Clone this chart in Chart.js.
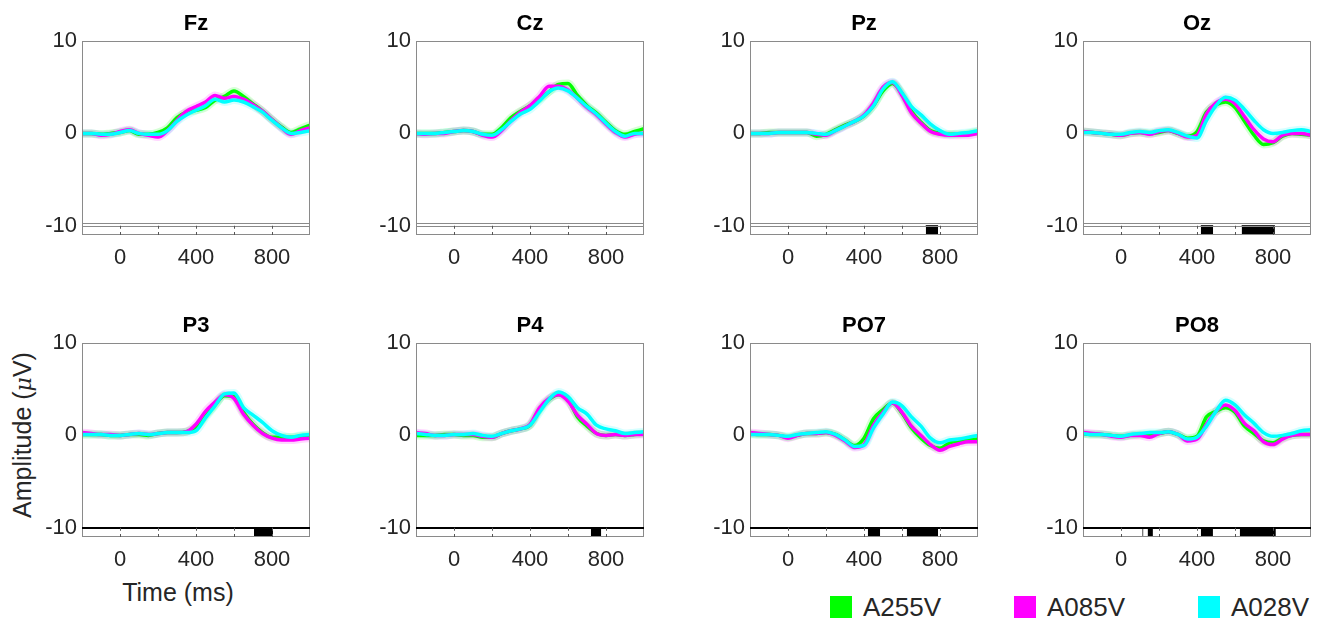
<!DOCTYPE html>
<html lang="en">
<head>
<meta charset="UTF-8">
<title>ERP by electrode</title>
<script src="https://cdn.jsdelivr.net/npm/chart.js"></script>
<style>
    body {
        margin: 0;
        background: #fff;
        font-family: "Liberation Sans", Arial, sans-serif;
    }

    #page {
        position: relative;
        width: 1321px;
        height: 619px;
        overflow: hidden;
    }

    #page canvas {
        position: absolute;
    }

    .axis-label {
        position: absolute;
        font-size: 25px;
        color: #262626;
        white-space: nowrap;
        transform: translate(-50%, -50%);
    }

    .axis-label.vertical {
        transform: translate(-50%, -50%) rotate(-90deg);
    }

    .axis-label i {
        font-family: "DejaVu Serif", serif;
        font-size: 22px;
    }

    .legend-item {
        position: absolute;
        top: 594px;
        height: 26px;
        display: flex;
        align-items: center;
        font-size: 26px;
        color: #262626;
    }

    .legend-item .swatch {
        width: 22px;
        height: 22px;
        margin-right: 11px;
    }
</style>
</head>
<body>
<div id="page">
    <div class="axis-label vertical" style="left: 22px; top: 435px;">Amplitude (<i>μ</i>V)</div>
    <div class="axis-label" style="left: 178px; top: 592px;">Time (ms)</div>
</div>

<script>
    // time axis (ms) shared by every panel
    const times = [-200, -150, -100, -50, 0, 50, 100, 150, 200, 250, 300, 350, 400,
                   450, 500, 550, 600, 650, 700, 750, 800, 850, 900, 950, 1000];

    const electrodes = ['Fz', 'Cz', 'Pz', 'Oz', 'P3', 'P4', 'PO7', 'PO8'];

    // amplitude (uV), one row per electrode, same order as above
    const a255v = [
        [0, 0, -0.1, 0, 0.1, 0.3, -0.1, -0.1, 0.1, 0.6, 1.7, 2.3, 2.5, 2.8, 3.6, 4.0, 4.6, 4.0, 3.2, 2.4, 1.5, 0.7, 0.1, 0.5, 0.9],
        [0, 0, 0, 0.1, 0.2, 0.3, 0.2, -0.1, -0.1, 0.6, 1.7, 2.4, 3.0, 3.7, 4.5, 5.3, 5.4, 4.1, 3.0, 2.2, 1.2, 0.3, -0.1, 0.2, 0.5],
        [0, 0, 0.1, 0.1, 0.1, 0.1, 0.1, -0.3, -0.1, 0.4, 0.9, 1.3, 1.9, 3.0, 4.6, 5.4, 4.3, 2.4, 1.2, 0.3, 0, -0.1, -0.1, 0, 0.2],
        [0.2, 0.1, 0, -0.1, -0.2, 0, 0.1, 0, 0.1, 0.3, 0, -0.3, 0.2, 2.3, 3.1, 3.4, 2.8, 1.3, -0.2, -1.2, -1.0, -0.3, 0, -0.1, -0.2],
        [0.1, 0.1, 0.1, 0, 0, 0.1, 0.1, 0, 0.2, 0.3, 0.3, 0.4, 0.9, 2.1, 3.3, 4.3, 4.2, 2.5, 1.2, 0.3, -0.2, -0.2, -0.2, -0.1, 0],
        [0, 0, 0, 0.1, 0.1, 0, 0, -0.2, -0.2, 0.2, 0.5, 0.7, 1.1, 2.8, 3.9, 4.4, 3.9, 2.0, 1.0, 0.2, 0, 0.1, 0, 0.1, 0.2],
        [0.2, 0.1, 0.1, 0, -0.2, 0, 0.2, 0.2, 0.3, 0.1, -0.5, -1.1, -0.3, 1.8, 2.8, 3.5, 2.4, 0.8, -0.3, -1.1, -1.4, -0.8, -0.6, -0.5, -0.4],
        [0.2, 0.1, 0.1, 0, -0.1, 0, 0.1, 0.1, 0.2, 0.4, 0.1, -0.3, -0.1, 2.0, 2.6, 3.0, 2.5, 1.0, 0.2, -0.6, -0.8, -0.3, 0, 0.1, 0.1]
    ];

    const a085v = [
        [0, 0, -0.2, -0.1, 0.2, 0.4, 0, -0.2, -0.4, 0.3, 1.4, 2.4, 2.9, 3.4, 4.1, 3.8, 4.0, 3.7, 3.1, 2.4, 1.5, 0.6, -0.1, 0.3, 0.6],
        [0, -0.1, 0, 0, 0.2, 0.3, 0.2, -0.2, -0.4, 0.3, 1.4, 2.3, 3.0, 4.0, 5.1, 5.1, 4.7, 3.8, 2.8, 2.0, 1.0, 0.1, -0.4, -0.1, 0],
        [0, 0, 0, 0.1, 0.1, 0.1, 0.1, -0.1, -0.2, 0.3, 0.8, 1.3, 2.0, 3.3, 5.0, 5.5, 4.1, 2.2, 1.1, 0.2, -0.1, -0.2, -0.2, -0.2, 0],
        [0.2, 0.1, 0, -0.1, -0.2, 0, 0.1, -0.1, 0.2, 0.3, 0, -0.4, -0.2, 2.1, 3.3, 3.7, 3.2, 1.8, 0.4, -0.6, -0.9, -0.2, 0, 0, -0.2],
        [0.3, 0.2, 0.1, 0.1, 0, 0.1, 0.2, 0.1, 0.2, 0.3, 0.3, 0.4, 1.2, 2.6, 3.6, 4.4, 4.0, 2.3, 1.1, 0.2, -0.3, -0.5, -0.5, -0.4, -0.3],
        [0.3, 0.2, 0, 0, 0.1, 0.1, 0.1, -0.1, -0.2, 0.2, 0.5, 0.7, 1.2, 3.0, 4.0, 4.4, 3.7, 2.2, 1.2, 0.2, 0, 0.1, 0, 0.1, 0.1],
        [0.3, 0.2, 0.1, 0, -0.3, 0, 0.2, 0.2, 0.3, 0, -0.6, -1.3, -1.0, 1.1, 2.5, 3.5, 2.5, 1.0, 0, -1.0, -1.6, -1.2, -0.9, -0.7, -0.7],
        [0.3, 0.2, 0.1, -0.1, -0.2, 0, 0, -0.2, 0.2, 0.4, 0.1, -0.6, -0.4, 1.2, 2.6, 3.3, 2.7, 1.3, 0.5, -0.7, -1.0, -0.4, 0, 0.1, 0.1]
    ];

    const a028v = [
        [0, 0, -0.1, -0.1, 0.1, 0.3, 0, -0.1, -0.1, 0.3, 1.3, 2.0, 2.5, 3.0, 3.7, 3.4, 3.6, 3.4, 2.9, 2.3, 1.4, 0.6, 0, 0.1, 0.3],
        [0, 0, 0, 0.1, 0.2, 0.3, 0.2, -0.1, -0.2, 0.4, 1.3, 2.1, 2.6, 3.5, 4.5, 4.9, 4.6, 3.8, 2.9, 2.1, 1.1, 0.2, -0.3, 0, 0],
        [0, 0, 0, 0.1, 0.1, 0.1, 0.1, 0, -0.1, 0.3, 0.8, 1.3, 1.9, 3.0, 4.8, 5.6, 4.4, 2.9, 2.0, 1.0, 0.3, -0.1, 0, 0.1, 0.3],
        [0.1, 0.1, 0, -0.1, -0.1, 0.1, 0.2, 0.1, 0.3, 0.4, 0.1, -0.3, -0.5, 1.4, 3.0, 3.9, 3.6, 2.6, 1.4, 0.4, 0, 0.1, 0.3, 0.4, 0.2],
        [0.1, 0.1, 0.1, 0, 0, 0.1, 0.2, 0.1, 0.2, 0.3, 0.3, 0.3, 0.5, 1.9, 3.2, 4.5, 4.6, 3.0, 2.2, 1.4, 0.5, 0, -0.2, 0, 0.1],
        [0.2, 0.1, 0, 0, 0.1, 0.1, 0.2, 0, -0.1, 0.2, 0.5, 0.7, 1.1, 2.5, 3.9, 4.7, 4.2, 3.0, 2.3, 1.1, 0.7, 0.5, 0.2, 0.3, 0.4],
        [0.1, 0.1, 0.1, 0, -0.1, 0.1, 0.2, 0.3, 0.4, 0.1, -0.5, -1.2, -1.1, 0.8, 2.3, 3.6, 3.2, 2.0, 1.0, -0.3, -0.8, -0.5, -0.4, -0.2, 0],
        [0.2, 0.1, 0.1, 0, -0.1, 0.1, 0.2, 0.3, 0.3, 0.4, 0.1, -0.4, -0.2, 1.0, 2.6, 3.8, 3.3, 2.2, 1.3, 0.3, -0.1, 0, 0.2, 0.5, 0.6]
    ];

    // significant time windows (ms) shown as black blocks in the strip
    const sigWindows = [
        [],
        [],
        [[725, 790]],
        [[420, 485], [635, 810]],
        [[705, 805]],
        [[720, 775]],
        [[420, 485], [625, 790]],
        [[112, 118], [140, 168], [420, 484], [625, 815]]
    ];

    const xTicks = [0, 400, 800];
    const yTicks = [10, 0, -10];
    const stripTicks = [0, 200, 400, 600, 800];

    const seriesNames = ['A255V', 'A085V', 'A028V'];
    const seriesColors = ['#00ff00', '#ff00ff', '#00ffff'];
    const bandColors = ['rgba(0,255,0,0.16)', 'rgba(255,0,255,0.16)', 'rgba(0,255,255,0.16)'];

    // layout of the 2x4 grid
    const plotLeft = [82, 416, 750, 1083];
    const plotTop = [41, 343];
    const plotW = 228, plotH = 194, titleH = 38, rightPad = 6;
    const fontFamily = '"Liberation Sans", Arial, sans-serif';
    const textColor = '#262626';

    // box, separator line and tick marks of the significance strip
    const framePlugin = {
        id: 'frame',
        afterDatasetsDraw(chart, args, opts) {
            const { ctx, chartArea: a } = chart;
            const x = chart.scales.x, y = chart.scales.y;
            ctx.save();
            ctx.strokeStyle = '#8a8a8a';
            ctx.lineWidth = 1;
            ctx.strokeRect(a.left + 0.5, a.top + 0.5, a.width - 1, a.height - 1);

            const yStrip = y.getPixelForValue(-10);
            if (opts.row === 0) {
                const yBox = Math.round(y.getPixelForValue(-9.7)) + 0.5;
                ctx.beginPath();
                ctx.moveTo(a.left, yBox); ctx.lineTo(a.right, yBox);
                ctx.moveTo(a.left, Math.round(yStrip) + 0.5); ctx.lineTo(a.right, Math.round(yStrip) + 0.5);
                ctx.stroke();
            } else {
                ctx.strokeStyle = '#000';
                ctx.lineWidth = 2;
                ctx.beginPath();
                ctx.moveTo(a.left, Math.round(yStrip)); ctx.lineTo(a.right, Math.round(yStrip));
                ctx.stroke();
            }

            ctx.strokeStyle = '#555';
            ctx.lineWidth = 1;
            ctx.beginPath();
            stripTicks.forEach(t => {
                const px = Math.round(x.getPixelForValue(t)) + 0.5;
                ctx.moveTo(px, yStrip); ctx.lineTo(px, yStrip + 3);
                ctx.moveTo(px, a.bottom - 3); ctx.lineTo(px, a.bottom);
            });
            ctx.stroke();
            ctx.restore();
        }
    };

    const page = document.getElementById('page');

    electrodes.forEach((name, i) => {
        const row = Math.floor(i / 4), col = i % 4;
        const yW = col === 0 ? plotLeft[0] : 76;
        const xH = 40;

        const cv = document.createElement('canvas');
        cv.width = yW + plotW + rightPad;
        cv.height = titleH + plotH + xH;
        cv.style.left = (plotLeft[col] - yW) + 'px';
        cv.style.top = (plotTop[row] - titleH) + 'px';
        page.appendChild(cv);

        const values = [a255v[i], a085v[i], a028v[i]];
        const toPoints = v => times.map((t, k) => ({ x: t, y: v[k] }));
        const datasets = [];

        // soft shading under each trace (drawn first, higher order = further back)
        values.forEach((v, s) => {
            datasets.push({
                label: seriesNames[s] + ' band',
                data: toPoints(v),
                borderColor: bandColors[s],
                borderWidth: 8,
                pointRadius: 0,
                cubicInterpolationMode: 'monotone',
                fill: false,
                order: 10
            });
        });
        // green at the back, cyan on top
        values.forEach((v, s) => {
            datasets.push({
                label: seriesNames[s],
                data: toPoints(v),
                borderColor: seriesColors[s],
                borderWidth: 3.5,
                pointRadius: 0,
                cubicInterpolationMode: 'monotone',
                fill: false,
                order: 5 - s
            });
        });
        sigWindows[i].forEach(([from, to]) => {
            datasets.push({
                label: 'sig',
                data: [{ x: from, y: -10 }, { x: to, y: -10 }],
                borderColor: '#000',
                borderWidth: 1,
                backgroundColor: '#000',
                pointRadius: 0,
                tension: 0,
                fill: { value: -11 },
                order: 0
            });
        });

        new Chart(cv.getContext('2d'), {
            type: 'line',
            data: { datasets },
            plugins: [framePlugin],
            options: {
                responsive: false,
                animation: false,
                devicePixelRatio: 1,
                layout: { padding: { left: 0, right: rightPad, top: 0, bottom: 0 } },
                plugins: {
                    legend: { display: false },
                    tooltip: { enabled: false },
                    frame: { row },
                    title: {
                        display: true,
                        text: name,
                        fullSize: false,
                        color: '#000',
                        font: { family: fontFamily, size: 22, weight: 'bold' },
                        padding: { top: 8, bottom: 3.6 }
                    }
                },
                scales: {
                    x: {
                        type: 'linear',
                        min: -200,
                        max: 1000,
                        grid: { display: false, drawTicks: false },
                        border: { display: false },
                        afterBuildTicks: s => { s.ticks = xTicks.map(v => ({ value: v })); },
                        afterFit: s => { s.height = xH; },
                        ticks: {
                            color: textColor,
                            font: { family: fontFamily, size: 22 },
                            padding: 10,
                            maxRotation: 0
                        }
                    },
                    y: {
                        min: -11,
                        max: 10,
                        grid: { display: false, drawTicks: false },
                        border: { display: false },
                        afterBuildTicks: s => { s.ticks = yTicks.map(v => ({ value: v })); },
                        afterFit: s => { s.width = yW; },
                        ticks: {
                            color: textColor,
                            font: { family: fontFamily, size: 22 },
                            padding: 5
                        }
                    }
                }
            }
        });
    });

    // legend along the bottom right
    const legendLeft = [830, 1014, 1198];
    seriesNames.forEach((label, s) => {
        const item = document.createElement('div');
        item.className = 'legend-item';
        item.style.left = legendLeft[s] + 'px';
        const sw = document.createElement('span');
        sw.className = 'swatch';
        sw.style.background = seriesColors[s];
        const txt = document.createElement('span');
        txt.textContent = label;
        item.appendChild(sw);
        item.appendChild(txt);
        page.appendChild(item);
    });
</script>
</body>
</html>
